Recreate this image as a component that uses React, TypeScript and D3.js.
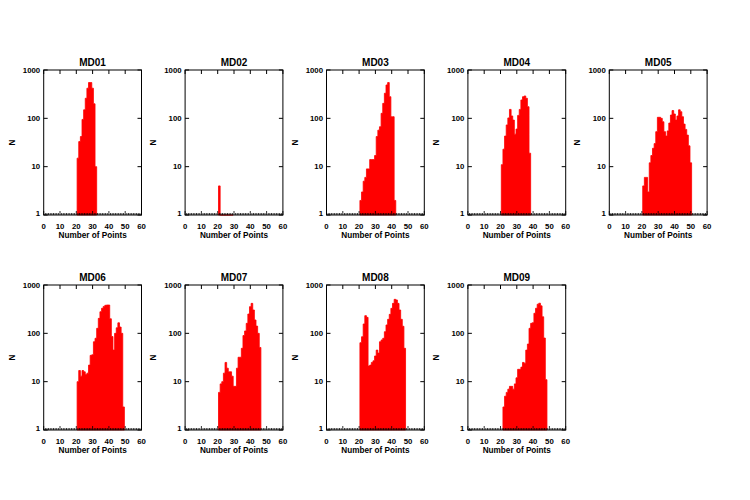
import React from "react";
import * as d3 from "d3";

const TITLES = ["MD01", "MD02", "MD03", "MD04", "MD05", "MD06", "MD07", "MD08", "MD09"];
const FIRST_BIN = [21, 21, 21, 21, 21, 21, 21, 21, 22];

const MD01 = [15, 33, 42, 95, 150, 260, 420, 550, 550, 420, 200, 10];
const MD02 = [4, 1, 1, 1, 1, 1, 1, 1, 1];
const MD03 = [2, 3, 5, 6, 9, 9, 14, 14, 14, 17, 42, 57, 67, 127, 204, 330, 490, 550, 280, 108, 108, 2];
const MD04 = [11, 23, 43, 73, 102, 153, 112, 92, 47, 60, 115, 153, 240, 280, 290, 260, 174, 19];
const MD05 = [4, 6, 6, 3, 12, 17, 24, 30, 53, 105, 105, 100, 85, 53, 43, 55, 80, 117, 145, 123, 92, 112, 150, 137, 108, 76, 59, 45, 27, 12];
const MD06 = [10, 17, 13, 17, 16, 14, 15, 22, 35, 36, 67, 79, 127, 204, 280, 330, 360, 380, 385, 385, 200, 86, 45, 100, 130, 165, 135, 100, 3];
const MD07 = [6, 9, 10, 15, 25, 19, 16, 16, 13, 8, 8, 19, 32, 32, 49, 90, 112, 161, 251, 356, 417, 304, 189, 141, 100, 51];
const MD08 = [64, 85, 156, 232, 214, 21, 22, 25, 27, 34, 45, 39, 67, 73, 79, 108, 149, 195, 247, 329, 417, 505, 490, 417, 304, 195, 140, 49];
const MD09 = [3, 5, 6, 7, 8, 8, 7, 9, 12, 18, 18, 20, 25, 24, 45, 60, 127, 161, 166, 260, 330, 400, 420, 370, 220, 80, 11];

const SERIES = [MD01, MD02, MD03, MD04, MD05, MD06, MD07, MD08, MD09];

const X_TICKS = [0, 10, 20, 30, 40, 50, 60];
const X_MINOR = d3.range(0, 61, 1);
const Y_TICKS = [1, 10, 100, 1000];
const X_LABEL = "Number of Points";
const Y_LABEL = "N";

const COL_LEFT0 = 43.7;
const COL_STEP = 141.4;
const PW = 97.8;
const ROW_TOP = [70, 285];
const PH = 145;
const FONT = "'Liberation Sans', Arial, Helvetica, sans-serif";

function Panel({ i }: { i: number }) {
  const col = i % 5;
  const row = Math.floor(i / 5);
  const left = COL_LEFT0 + col * COL_STEP;
  const top = ROW_TOP[row];
  const x = d3.scaleLinear().domain([0, 60]).range([left, left + PW]);
  const y = d3.scaleLog().domain([1, 1000]).range([top + PH, top]);
  const data = SERIES[i];
  const pts: [number, number][] = data.flatMap((v, j) => {
    const k = FIRST_BIN[i] + j;
    return [
      [k - 0.5, v],
      [k + 0.5, v],
    ] as [number, number][];
  });
  const area = d3
    .area<[number, number]>()
    .x((d) => x(d[0]))
    .y0(y(1))
    .y1((d) => y(d[1]));
  const x0 = x(0), x1 = x(60), yb = y(1), yt = y(1000);
  return (
    <g>
      <path d={area(pts) || ""} fill="#ff0000" stroke="#ff0000" strokeWidth={0.8} />
      {/* frame */}
      <rect x={x0} y={yt} width={x1 - x0} height={yb - yt} fill="none" stroke="#000" strokeWidth={1} />
      {/* bottom minor ticks */}
      {X_MINOR.map((t) => (
        <line key={"bm" + t} x1={x(t)} x2={x(t)} y1={yb} y2={yb - (t % 10 === 0 ? 4 : 2)} stroke="#000" strokeWidth={0.8} />
      ))}
      {/* top ticks */}
      {X_TICKS.map((t) => (
        <line key={"tt" + t} x1={x(t)} x2={x(t)} y1={yt} y2={yt + 4} stroke="#000" strokeWidth={1} />
      ))}
      {/* y ticks left/right */}
      {Y_TICKS.map((t) => (
        <g key={"yt" + t}>
          <line x1={x0} x2={x0 + 4} y1={y(t)} y2={y(t)} stroke="#000" strokeWidth={1} />
          <line x1={x1} x2={x1 - 4} y1={y(t)} y2={y(t)} stroke="#000" strokeWidth={1} />
        </g>
      ))}
      {/* x tick labels */}
      {X_TICKS.map((t) => (
        <text key={"xl" + t} x={x(t)} y={yb + 13.8} textAnchor="middle" fontSize={7.8} fontWeight="bold" fontFamily={FONT}>
          {t}
        </text>
      ))}
      {/* y tick labels */}
      {Y_TICKS.map((t) => (
        <text key={"yl" + t} x={x0 - 3.5} y={y(t) + (t === 1 ? 1 : 2.8)} textAnchor="end" fontSize={7.8} fontWeight="bold" fontFamily={FONT}>
          {t}
        </text>
      ))}
      <text x={(x0 + x1) / 2} y={yb + 22.5} textAnchor="middle" fontSize={8.2} fontWeight="bold" fontFamily={FONT}>
        {X_LABEL}
      </text>
      <text
        transform={`translate(${x0 - 29},${(yt + yb) / 2}) rotate(-90)`}
        textAnchor="middle"
        fontSize={8.2}
        fontWeight="bold"
        fontFamily={FONT}
      >
        {Y_LABEL}
      </text>
      <text x={(x0 + x1) / 2} y={yt - 4.2} textAnchor="middle" fontSize={10} fontWeight="bold" fontFamily={FONT}>
        {TITLES[i]}
      </text>
    </g>
  );
}

export default function App() {
  return (
    <svg
      width={750}
      height={500}
      viewBox="0 0 750 500"
      style={{ position: "absolute", left: 0, top: 0, background: "#fff" }}
    >
      <rect x={0} y={0} width={750} height={500} fill="#fff" />
      {TITLES.map((_, i) => (
        <Panel key={i} i={i} />
      ))}
    </svg>
  );
}
